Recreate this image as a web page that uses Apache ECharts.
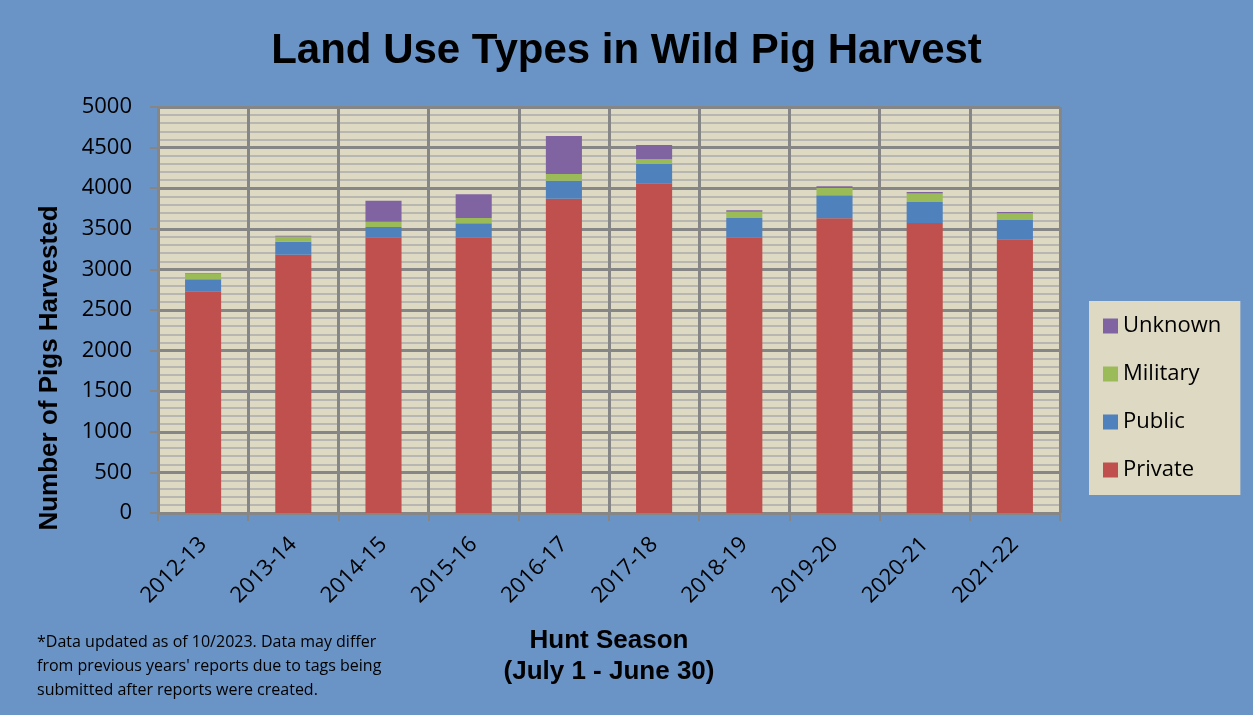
<!DOCTYPE html>
<html>
<head>
<meta charset="utf-8">
<script src="https://cdn.jsdelivr.net/npm/echarts@6/dist/echarts.min.js"></script>
<style>
  html, body { margin: 0; padding: 0; background: #6a93c6; }
  #chart { width: 1253px; height: 715px; }
</style>
</head>
<body>
<div id="chart"></div>
<script>
// 狩猎季
const seasons = ["2012-13", "2013-14", "2014-15", "2015-16", "2016-17", "2017-18", "2018-19", "2019-20", "2020-21", "2021-22"];
// 各类土地的捕获数量
const privateData = [2730, 3180, 3390, 3390, 3870, 4060, 3390, 3630, 3570, 3370];
const publicData = [150, 160, 132, 177, 222, 238, 242, 283, 259, 238];
const militaryData = [70, 65, 65, 65, 82, 58, 78, 90, 107, 82];
const unknownData = [5, 10, 259, 292, 468, 176, 17, 21, 16, 16];
const yTicks = [0, 5000, 500];

const colors = {
  Private: "#c0504d",
  Public: "#4f81bd",
  Military: "#9bbb59",
  Unknown: "#8064a2",
};

const chart = echarts.init(document.getElementById("chart"));

function barSeries(name, data) {
  return {
    name: name,
    type: "bar",
    stack: "total",
    barWidth: "40%",
    data: data,
    itemStyle: { color: colors[name] },
  };
}

const option = {
  backgroundColor: "#6a93c6",
  animation: false,
  title: {
    text: "Land Use Types in Wild Pig Harvest",
    left: "center",
    top: 25,
    textStyle: {
      fontFamily: "Liberation Sans",
      fontWeight: "bold",
      fontSize: 42,
      color: "#000",
    },
  },
  legend: {
    orient: "vertical",
    left: 1089,
    top: 301,
    padding: [14, 19, 14, 14],
    backgroundColor: "#ddd9c3",
    itemWidth: 15,
    itemHeight: 15,
    itemGap: 26,
    icon: "rect",
    data: ["Unknown", "Military", "Public", "Private"],
    textStyle: { fontFamily: "Open Sans", fontSize: 22, color: "#000", lineHeight: 22 },
  },
  grid: {
    left: 158,
    right: 193,
    top: 107,
    bottom: 202,
    show: true,
    backgroundColor: "#ddd9c3",
    borderColor: "#868686",
    borderWidth: 0,
  },
  xAxis: {
    type: "category",
    data: seasons,
    axisLine: { lineStyle: { color: "#868686", width: 2 } },
    axisTick: { show: true, length: 8, lineStyle: { color: "#868686", width: 2 } },
    splitLine: { show: true, lineStyle: { color: "#868686", width: 3 } },
    axisLabel: {
      rotate: 45,
      margin: 28,
      fontFamily: "Open Sans",
      fontSize: 22,
      color: "#000",
    },
  },
  yAxis: {
    type: "value",
    min: yTicks[0],
    max: yTicks[1],
    interval: yTicks[2],
    axisLine: { show: true, lineStyle: { color: "#868686", width: 2 } },
    axisTick: { show: true, length: 8, lineStyle: { color: "#868686", width: 2 } },
    splitLine: { show: true, lineStyle: { color: "#868686", width: 3 } },
    minorTick: { show: false, splitNumber: 5 },
    minorSplitLine: { show: true, lineStyle: { color: "#b8b6b0", width: 2 } },
    axisLabel: {
      margin: 26,
      fontFamily: "Open Sans",
      fontSize: 22,
      color: "#000",
      formatter: (v) => String(v),
    },
  },
  graphic: [
    {
      type: "text",
      x: 50,
      y: 368,
      rotation: Math.PI / 2,
      style: {
        text: "Number of Pigs Harvested",
        font: "bold 26px Liberation Sans",
        fill: "#000",
        textAlign: "center",
        textVerticalAlign: "middle",
      },
    },
    {
      type: "text",
      x: 609,
      y: 656,
      style: {
        text: "Hunt Season\n(July 1 - June 30)",
        font: "bold 26px Liberation Sans",
        lineHeight: 31,
        fill: "#000",
        textAlign: "center",
        textVerticalAlign: "middle",
      },
    },
    {
      type: "text",
      x: 37,
      y: 630,
      style: {
        text: "*Data updated as of 10/2023. Data may differ\nfrom previous years' reports due to tags being\nsubmitted after reports were created.",
        font: "16px Open Sans",
        lineHeight: 24,
        fill: "#000",
      },
    },
  ],
  series: [
    barSeries("Private", privateData),
    barSeries("Public", publicData),
    barSeries("Military", militaryData),
    barSeries("Unknown", unknownData),
  ],
};

chart.setOption(option);
</script>
</body>
</html>
